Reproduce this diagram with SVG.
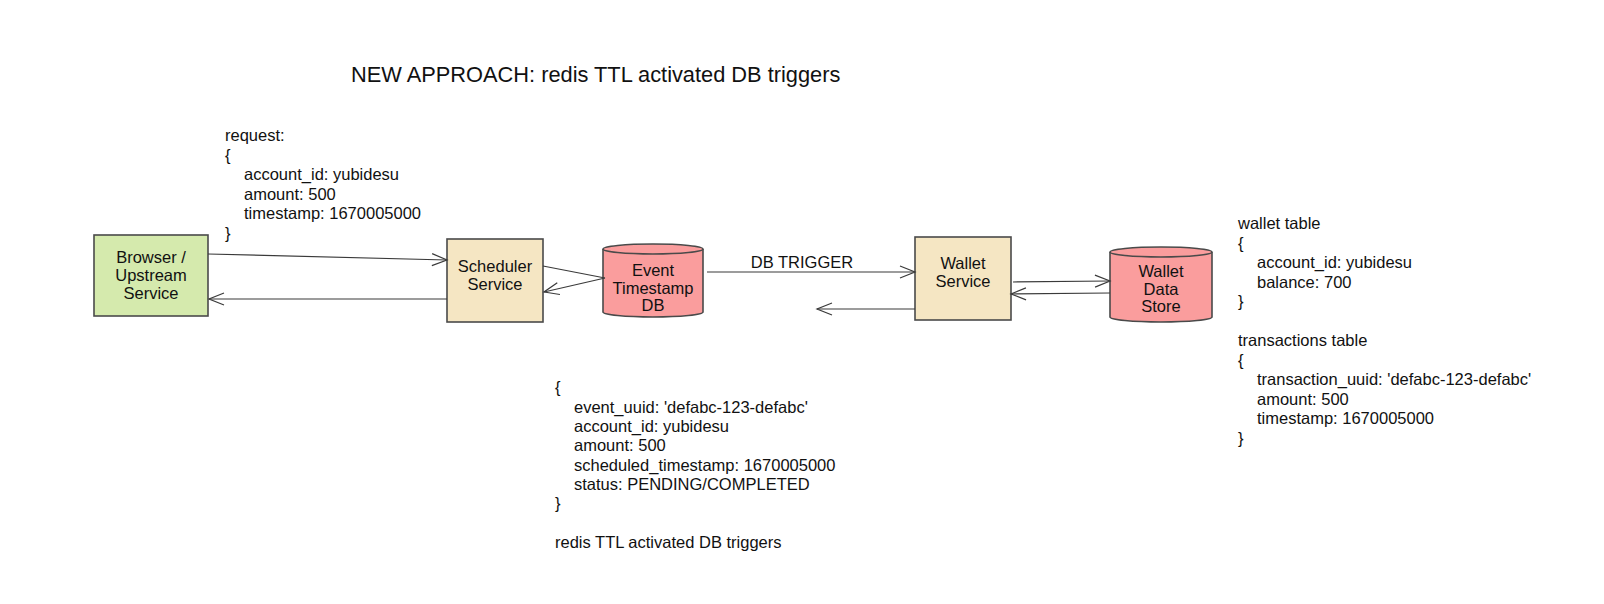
<svg xmlns="http://www.w3.org/2000/svg" width="1604" height="604" viewBox="0 0 1604 604">
<style>
text{font-family:"Liberation Sans",Arial,Helvetica,sans-serif;font-size:16.5px;fill:#111}
.c{text-anchor:middle}
.box{stroke:#4a4a4a;stroke-width:1.6}
.green{fill:#d5eaad}
.tan{fill:#f5e6c3}
.pink{fill:#fa9d9d}
.conn line,.conn path{stroke:#3a3a3a;stroke-width:1.2;fill:none}
.title{font-size:21.8px}
</style>
<defs>
<marker id="open" markerUnits="userSpaceOnUse" markerWidth="18" markerHeight="14" refX="16" refY="7" orient="auto">
<path d="M1,1 L16,7 L1,13" fill="none" stroke="#3a3a3a" stroke-width="1.2"/>
</marker>
</defs>
<rect width="1604" height="604" fill="#ffffff"/>

<text id="title" class="title" x="351" y="82">NEW APPROACH: redis TTL activated DB triggers</text>

<g id="request-note">
<text x="225" y="141">request:</text>
<text x="225" y="160.5">{</text>
<text x="244" y="180">account_id: yubidesu</text>
<text x="244" y="199.5">amount: 500</text>
<text x="244" y="219">timestamp: 1670005000</text>
<text x="225" y="238.5">}</text>
</g>

<g id="browser">
<rect class="box green" x="94" y="235" width="114" height="81"/>
<text class="c" x="151" y="263">Browser /</text>
<text class="c" x="151" y="281">Upstream</text>
<text class="c" x="151" y="299">Service</text>
</g>

<g id="scheduler">
<rect class="box tan" x="447" y="239" width="96" height="83"/>
<text class="c" x="495" y="272">Scheduler</text>
<text class="c" x="495" y="290">Service</text>
</g>

<g id="event-db">
<path class="box pink" d="M603,249 A50,5 0 0 1 703,249 L703,312 A50,5 0 0 1 603,312 Z"/>
<path d="M603,249 A50,5 0 0 0 703,249" fill="none" stroke="#4a4a4a" stroke-width="1.6"/>
<text class="c" x="653" y="276">Event</text>
<text class="c" x="653" y="293.5">Timestamp</text>
<text class="c" x="653" y="311">DB</text>
</g>

<g id="wallet-service">
<rect class="box tan" x="915" y="237" width="96" height="83"/>
<text class="c" x="963" y="269">Wallet</text>
<text class="c" x="963" y="287">Service</text>
</g>

<g id="wallet-store">
<path class="box pink" d="M1110,252 A51,5 0 0 1 1212,252 L1212,317 A51,5 0 0 1 1110,317 Z"/>
<path d="M1110,252 A51,5 0 0 0 1212,252" fill="none" stroke="#4a4a4a" stroke-width="1.6"/>
<text class="c" x="1161" y="277">Wallet</text>
<text class="c" x="1161" y="295">Data</text>
<text class="c" x="1161" y="312">Store</text>
</g>

<g id="event-note">
<text x="555" y="393.4">{</text>
<text x="574" y="412.7">event_uuid: 'defabc-123-defabc'</text>
<text x="574" y="432">account_id: yubidesu</text>
<text x="574" y="451.3">amount: 500</text>
<text x="574" y="470.6">scheduled_timestamp: 1670005000</text>
<text x="574" y="489.9">status: PENDING/COMPLETED</text>
<text x="555" y="509.2">}</text>
<text x="555" y="547.8">redis TTL activated DB triggers</text>
</g>

<g id="wallet-note">
<text x="1238" y="229">wallet table</text>
<text x="1238" y="248.5">{</text>
<text x="1257" y="268">account_id: yubidesu</text>
<text x="1257" y="287.5">balance: 700</text>
<text x="1238" y="307">}</text>
<text x="1238" y="346">transactions table</text>
<text x="1238" y="365.5">{</text>
<text x="1257" y="385">transaction_uuid: 'defabc-123-defabc'</text>
<text x="1257" y="404.5">amount: 500</text>
<text x="1257" y="424">timestamp: 1670005000</text>
<text x="1238" y="443.5">}</text>
</g>

<g id="connectors" class="conn">
<line x1="208" y1="254" x2="447" y2="260" marker-end="url(#open)"/>
<line x1="447" y1="299" x2="209" y2="299" marker-end="url(#open)"/>
<line x1="543" y1="266" x2="605" y2="278"/>
<line x1="605" y1="278" x2="544" y2="292" marker-end="url(#open)"/>
<line x1="707" y1="272" x2="915" y2="272" marker-end="url(#open)"/>
<line x1="915" y1="309" x2="817" y2="309" marker-end="url(#open)"/>
<line x1="1013" y1="282" x2="1110" y2="281" marker-end="url(#open)"/>
<line x1="1110" y1="293" x2="1011" y2="294" marker-end="url(#open)"/>
<text class="c" x="802" y="268">DB TRIGGER</text>
</g>
</svg>
